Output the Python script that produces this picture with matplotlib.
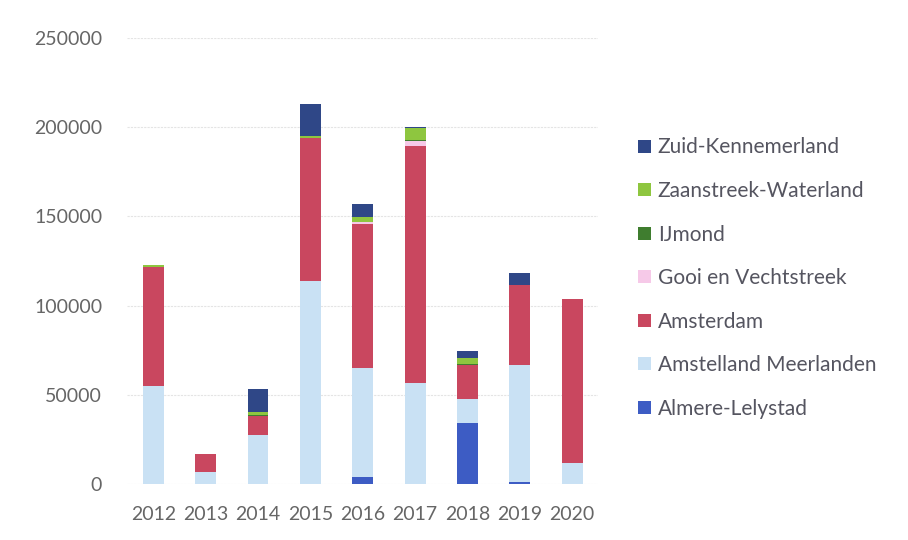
import matplotlib.pyplot as plt
import numpy as np

years = ['2012', '2013', '2014', '2015', '2016', '2017', '2018', '2019', '2020']

# stacked from bottom to top
almere = [0, 0, 0, 0, 4000, 0, 34200, 1000, 0]
amstelland = [55000, 7000, 27600, 114000, 61000, 56600, 13500, 65700, 11800]
amsterdam = [66800, 9800, 10700, 80000, 81000, 132700, 19200, 45000, 91900]
gooi = [0, 0, 0, 0, 800, 3100, 0, 0, 0]
ijmond = [0, 0, 300, 0, 0, 500, 300, 0, 0]
zaanstreek = [700, 0, 1900, 1000, 3000, 6600, 3400, 0, 0]
zuid_kennemerland = [0, 0, 12800, 18000, 7000, 500, 4100, 6600, 0]

series = [
    ('Almere-Lelystad', almere, '#3d5cc4'),
    ('Amstelland Meerlanden', amstelland, '#c9e1f4'),
    ('Amsterdam', amsterdam, '#c9475f'),
    ('Gooi en Vechtstreek', gooi, '#f6c9e8'),
    ('IJmond', ijmond, '#3f7d2f'),
    ('Zaanstreek-Waterland', zaanstreek, '#8ec63f'),
    ('Zuid-Kennemerland', zuid_kennemerland, '#2f4787'),
]

plt.rcParams['font.family'] = ['Lato', 'DejaVu Sans']

fig = plt.figure(figsize=(9.08, 5.40), dpi=100)
ax = fig.add_axes([0.140, 0.1037, 0.519, 0.8259])

x = np.arange(len(years))
bottom = np.zeros(len(years))
for name, vals, col in series:
    ax.bar(x, vals, width=0.4, bottom=bottom, color=col, label=name, zorder=2)
    bottom += np.array(vals)

ax.set_xlim(-0.5, len(years) - 0.5)
ax.set_ylim(0, 250000)
ax.set_yticks(range(0, 250001, 50000))
ax.set_xticks(x)
ax.set_xticklabels(years)
ax.yaxis.grid(True, color='#e4e4e4', linewidth=0.8, linestyle=(0, (2, 1)), zorder=0)
for s in ax.spines.values():
    s.set_visible(False)
ax.tick_params(length=0, labelsize=14, colors='#666666')
ax.tick_params(axis='y', pad=18)
ax.tick_params(axis='x', pad=16)

handles, labels = ax.get_legend_handles_labels()
fig.legend(handles[::-1], labels[::-1], loc='center left', bbox_to_anchor=(0.682, 0.485),
           frameon=False, fontsize=15, labelcolor='#555560', handlelength=0.6,
           handleheight=0.6, handletextpad=0.35, labelspacing=1.13)

fig.savefig('out.png', dpi=100)
